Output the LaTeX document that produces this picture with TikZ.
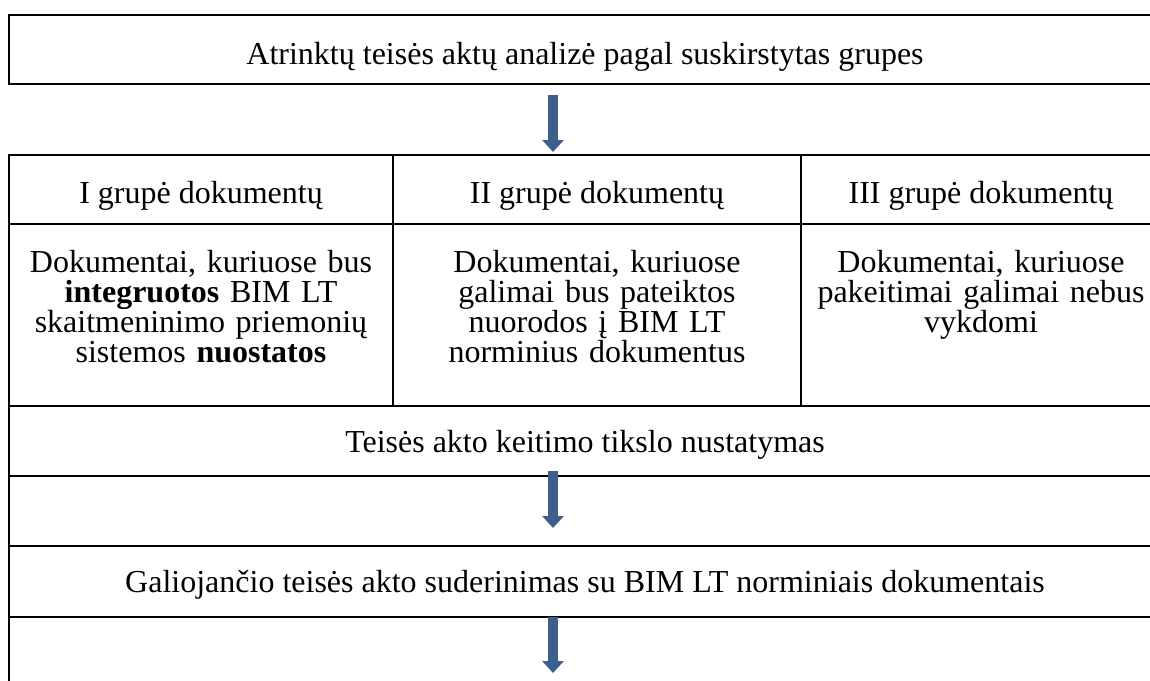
\documentclass[tikz,border=0pt]{standalone}
\usepackage{fontspec}
\setmainfont{Liberation Serif}
\usepackage{tikz}
\usetikzlibrary{arrows.meta, positioning, calc}
\definecolor{flowblue}{RGB}{60,95,142}

\begin{document}
\begin{tikzpicture}[
    x=1pt, y=-1pt,
    cell/.style={rectangle, draw, line width=1.8pt, outer sep=0pt, inner sep=0pt, align=center, font=\fontsize{32}{30}\selectfont},
    oneline/.style={text height=#1, text depth=6pt},
    flow/.style={-{Triangle[width=21pt, length=12pt]}, line width=9.5pt, draw=flowblue}
]
\useasboundingbox (0,0) rectangle (1150,680);
\clip (0,0) rectangle (1150,680);

% Nodes
\node [cell, oneline=36pt, anchor=north west, minimum width=1152pt, minimum height=69pt] (top) at (9,15) {Atrinktų teisės aktų analizė pagal suskirstytas grupes};

% Group table
\node [cell, oneline=33pt, anchor=north west, minimum width=384pt, minimum height=69pt] (h1) at (9,155) {I grupė dokumentų};
\node [cell, oneline=33pt, right=0pt of h1, minimum width=408pt, minimum height=69pt] (h2) {II grupė dokumentų};
\node [cell, oneline=33pt, right=0pt of h2, minimum width=360pt, minimum height=69pt] (h3) {III grupė dokumentų};
\node [cell, below=0pt of h1, minimum width=384pt, text width=370pt, minimum height=182pt] (b1) {Dokumentai, kuriuose bus\\ \textbf{integruotos} BIM LT\\ skaitmeninimo priemonių\\ sistemos \textbf{nuostatos}\\[-12pt] \mbox{}};
\node [cell, below=0pt of h2, minimum width=408pt, text width=394pt, minimum height=182pt] (b2) {Dokumentai, kuriuose\\ galimai bus pateiktos\\ nuorodos į BIM LT\\ norminius dokumentus\\[-12pt] \mbox{}};
\node [cell, below=0pt of h3, minimum width=360pt, text width=346pt, minimum height=182pt] (b3) {Dokumentai, kuriuose\\ pakeitimai galimai nebus\\ vykdomi\\[18pt] \mbox{}};

% Steps
\node [cell, oneline=28pt, below right=0pt of b1.south west, minimum width=1152pt, minimum height=70pt] (aim) {Teisės akto keitimo tikslo nustatymas};
\node [cell, below=0pt of aim, minimum width=1152pt, minimum height=70pt] (gap1) {};
\node [cell, oneline=28pt, below=0pt of gap1, minimum width=1152pt, minimum height=71pt] (match) {Galiojančio teisės akto suderinimas su BIM LT norminiais dokumentais};
\node [cell, below=0pt of match, minimum width=1152pt, minimum height=100pt] (gap2) {};

% Arrows
\coordinate (axis) at (553,0);
\coordinate (end3) at ($(gap2.north -| axis)+(0,56)$);
\draw [flow] ($(top.south -| axis)+(0,11)$) -- ($(h2.north -| axis)+(0,-3)$);
\draw [flow] ($(aim.south -| axis)+(0,-5)$) -- ($(match.north -| axis)+(0,-18)$);
\draw [flow] (gap2.north -| axis) -- (end3);

\end{tikzpicture}
\end{document}
